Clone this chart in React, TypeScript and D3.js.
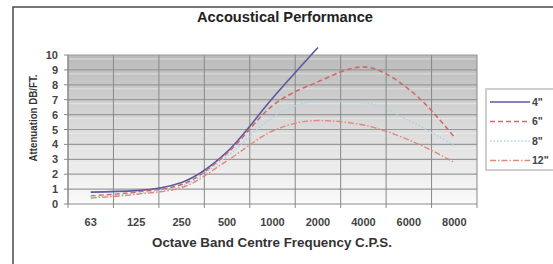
import React from "react";
import * as d3 from "d3";

const categories = ["63", "125", "250", "500", "1000", "2000", "4000", "6000", "8000"];
const yTicks = [0, 1, 2, 3, 4, 5, 6, 7, 8, 9, 10];
const series4 = [0.8, 0.9, 1.45, 3.5, 7.1, 10.5];
const series6 = [0.55, 0.8, 1.3, 3.4, 6.6, 8.2, 9.2, 7.7, 4.5];
const series8 = [0.5, 0.7, 1.2, 3.2, 5.8, 6.9, 6.8, 5.6, 3.9];
const series12 = [0.4, 0.65, 1.1, 2.9, 4.9, 5.6, 5.3, 4.3, 2.8];
const seriesNames = ['4"', '6"', '8"', '12"'];

const W = 553;
const H = 264;
const plot = { left: 68, right: 477, top: 55, bottom: 204 };

const styles = [
  { color: "#5a5a9e", dash: "", width: 1.6 },
  { color: "#cf6a6a", dash: "5,3", width: 1.6 },
  { color: "#a6d6e8", dash: "1.5,2", width: 1.6 },
  { color: "#e0897a", dash: "6,2,1.5,2", width: 1.4 },
];

export default function App() {
  const x = d3.scaleBand().domain(categories).range([plot.left, plot.right]);
  const y = d3.scaleLinear().domain([0, 10]).range([plot.bottom, plot.top]);
  const cx = (i: number) => (x(categories[i]) as number) + x.bandwidth() / 2;
  const line = d3
    .line<number>()
    .x((_, i) => cx(i))
    .y((d) => y(d))
    .curve(d3.curveMonotoneX);
  const all = [series4, series6, series8, series12];
  const boundaries = categories.map((c) => x(c) as number).concat([plot.right]);
  const font = "'Liberation Sans', Arial, sans-serif";

  return (
    <svg width={W} height={H} style={{ position: "absolute", left: 0, top: 0 }} fontFamily={font}>
      <defs>
        <linearGradient id="bg" x1="0" y1="0" x2="0" y2="1">
          <stop offset="0" stopColor="#bababa" />
          <stop offset="0.45" stopColor="#d8d8d8" />
          <stop offset="1" stopColor="#fbfbfb" />
        </linearGradient>
      </defs>
      <rect x={0} y={0} width={W} height={H} fill="#ffffff" />
      <path d={`M13,${H} L13,7 L${W},7`} fill="none" stroke="#4a4a4a" strokeWidth={1.5} />
      <text x={285} y={22} textAnchor="middle" fontSize={14} fontWeight="bold" fill="#222" textLength={176} lengthAdjust="spacingAndGlyphs">
        Accoustical Performance
      </text>
      <rect x={plot.left} y={plot.top} width={plot.right - plot.left} height={plot.bottom - plot.top} fill="url(#bg)" />
      {yTicks.slice(1).map((t) => (
        <g key={t}>
          <line x1={plot.left} x2={plot.right} y1={y(t)} y2={y(t)} stroke="#999" strokeWidth={1.2} />
          <line x1={plot.left} x2={plot.right} y1={y(t) + 4} y2={y(t) + 4} stroke="#f4f4f4" strokeWidth={1} opacity={0.6} />
        </g>
      ))}
      {boundaries.map((b, i) => (
        <line key={i} x1={b} x2={b} y1={plot.top} y2={plot.bottom + 4} stroke="#888" strokeWidth={1} />
      ))}
      <line x1={plot.left} x2={plot.right} y1={plot.bottom} y2={plot.bottom} stroke="#888" strokeWidth={1} />
      <line x1={plot.left} x2={plot.left} y1={plot.top} y2={plot.bottom} stroke="#888" strokeWidth={1} />
      {yTicks.map((t) => (
        <g key={t}>
          <line x1={plot.left - 4} x2={plot.left} y1={y(t)} y2={y(t)} stroke="#888" />
          <text x={plot.left - 10} y={y(t) + 4} textAnchor="end" fontSize={11} fontWeight="bold" fill="#444">
            {t}
          </text>
        </g>
      ))}
      {categories.map((c, i) => (
        <text key={c} x={cx(i)} y={226} textAnchor="middle" fontSize={11} fontWeight="bold" fill="#444">
          {c}
        </text>
      ))}
      <text x={272} y={247} textAnchor="middle" fontSize={12.5} fontWeight="bold" fill="#333" textLength={240} lengthAdjust="spacingAndGlyphs">
        Octave Band Centre Frequency C.P.S.
      </text>
      <text transform={`translate(37,118) rotate(-90)`} textAnchor="middle" fontSize={11} fontWeight="bold" fill="#333" textLength={87} lengthAdjust="spacingAndGlyphs">
        Attenuation DB/FT.
      </text>
      {all.map((s, k) => (
        <path key={k} d={line(s) || ""} fill="none" stroke={styles[k].color} strokeWidth={styles[k].width} strokeDasharray={styles[k].dash} />
      ))}
      <rect x={486} y={89} width={W - 486 + 5} height={81} fill="#ffffff" stroke="#cfcfcf" strokeWidth={2} />
      {seriesNames.map((n, k) => {
        const ly = 102 + k * 19.5;
        return (
          <g key={n}>
            <line x1={490} x2={530} y1={ly} y2={ly} stroke={styles[k].color} strokeWidth={styles[k].width} strokeDasharray={styles[k].dash} />
            <text x={532} y={ly + 3.5} fontSize={10.5} fontWeight="bold" fill="#444">
              {n}
            </text>
          </g>
        );
      })}
    </svg>
  );
}
